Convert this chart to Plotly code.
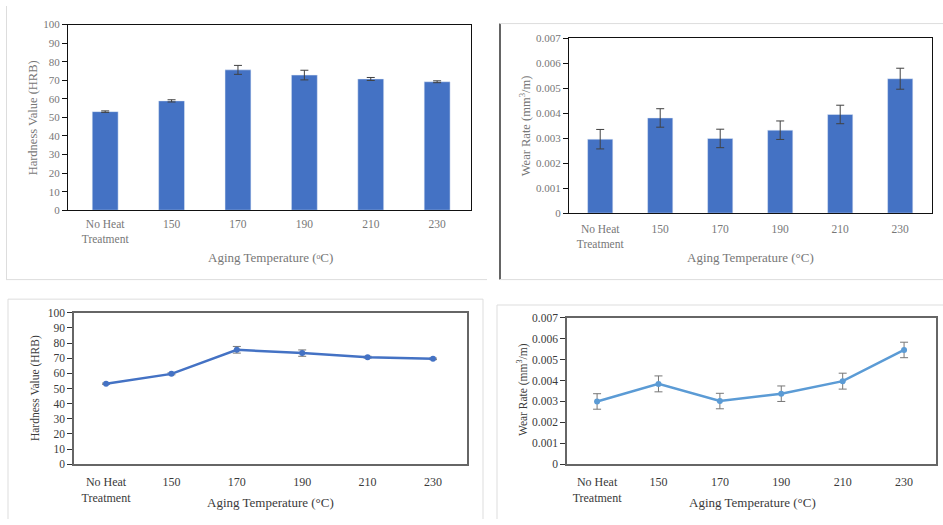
import plotly.graph_objects as go

W, H = 943, 525

categories = ["No Heat<br>Treatment", "150", "170", "190", "210", "230"]

# Top-left: hardness bar chart
hard_bar = [53.1, 58.9, 75.6, 72.8, 70.7, 69.2]
hard_bar_err = [0.4, 0.6, 2.4, 2.6, 0.8, 0.5]

# Top-right: wear rate bar chart
wear_bar = [0.00296, 0.00381, 0.00299, 0.00332, 0.00395, 0.00538]
wear_bar_err = [0.00039, 0.00037, 0.00037, 0.00037, 0.00037, 0.00042]

# Bottom-left: hardness line chart
hard_line = [53.2, 59.7, 75.6, 73.4, 70.7, 69.6]
hard_line_err = [0.4, 0.6, 2.2, 2.1, 0.6, 0.5]

# Bottom-right: wear rate line chart
wear_line = [0.00300, 0.00384, 0.00302, 0.00337, 0.00397, 0.00546]
wear_line_err = [0.00037, 0.00038, 0.00037, 0.00037, 0.00038, 0.00037]

hard_ticks = list(range(0, 101, 10))
wear_ticks = [0, 0.001, 0.002, 0.003, 0.004, 0.005, 0.006, 0.007]
wear_ticktext = ["0", "0.001", "0.002", "0.003", "0.004", "0.005", "0.006", "0.007"]

xidx = list(range(len(categories)))

def px(x):
    return x / W

def py(y):
    return 1 - y / H

SERIF = "Liberation Serif, Times New Roman, serif"
TOP_TXT = "#777777"
BOT_TXT = "#3a3a3a"
BAR_BLUE = "#4472C4"

fig = go.Figure()

fig.add_trace(go.Bar(
    x=xidx, y=hard_bar, width=0.39, marker_color=BAR_BLUE,
    error_y=dict(type="data", array=hard_bar_err, color="#404040", thickness=1, width=4),
    xaxis="x", yaxis="y", showlegend=False))

fig.add_trace(go.Bar(
    x=xidx, y=wear_bar, width=0.42, marker_color=BAR_BLUE,
    error_y=dict(type="data", array=wear_bar_err, color="#404040", thickness=1, width=4),
    xaxis="x2", yaxis="y2", showlegend=False))

fig.add_trace(go.Scatter(
    x=xidx, y=hard_line, mode="lines+markers",
    line=dict(color="#4472C4", width=2.5), marker=dict(color="#4472C4", size=6),
    error_y=dict(type="data", array=hard_line_err, color="#777777", thickness=1, width=4),
    xaxis="x3", yaxis="y3", showlegend=False))

fig.add_trace(go.Scatter(
    x=xidx, y=wear_line, mode="lines+markers",
    line=dict(color="#5B9BD5", width=2.5), marker=dict(color="#5B9BD5", size=6),
    error_y=dict(type="data", array=wear_line_err, color="#777777", thickness=1, width=4),
    xaxis="x4", yaxis="y4", showlegend=False))

def xax(domain, rng, anchor, color, size, lc, lw, standoff):
    return dict(domain=domain, range=rng, anchor=anchor, tickvals=xidx, ticktext=categories,
                showgrid=False, zeroline=False, ticks="", showline=True, linecolor=lc,
                linewidth=lw, mirror=True, ticklabelstandoff=standoff,
                tickfont=dict(family=SERIF, size=size, color=color), fixedrange=True)

def yax(domain, rng, anchor, tv, tt, color, size, lc, lw, tc):
    return dict(domain=domain, range=rng, anchor=anchor, tickvals=tv, ticktext=tt,
                showgrid=False, zeroline=False, ticks="outside", ticklen=5, tickcolor=tc,
                showline=True, linecolor=lc, linewidth=lw, mirror=True,
                tickfont=dict(family=SERIF, size=size, color=color), fixedrange=True)

fig.update_layout(
    width=W, height=H, margin=dict(l=0, r=0, t=0, b=0),
    paper_bgcolor="white", plot_bgcolor="white",
    bargap=0.6,
    xaxis=xax([px(68), px(471)], [-0.56, 5.51], "y", TOP_TXT, 11.5, "#111111", 1.3, 3),
    yaxis=yax([py(209), py(19)], [0, 100], "x", hard_ticks, [str(t) for t in hard_ticks],
              TOP_TXT, 11, "#111111", 1.3, "#111111"),
    xaxis2=xax([px(569), px(932)], [-0.52, 5.53], "y2", TOP_TXT, 11.5, "#111111", 1.3, 5),
    yaxis2=yax([py(212), py(33)], [0, 0.007], "x2", wear_ticks, wear_ticktext,
               TOP_TXT, 11, "#111111", 1.3, "#111111"),
    xaxis3=xax([px(74), px(467)], [-0.49, 5.52], "y3", BOT_TXT, 12, "#666666", 1.5, 6),
    yaxis3=yax([py(469), py(314)], [0, 100], "x3", hard_ticks, [str(t) for t in hard_ticks],
               BOT_TXT, 11.5, "#666666", 1.5, "#333333"),
    xaxis4=xax([px(567), px(936)], [-0.49, 5.52], "y4", BOT_TXT, 12, "#666666", 1.5, 6),
    yaxis4=yax([py(469), py(319)], [0, 0.007], "x4", wear_ticks, wear_ticktext,
               BOT_TXT, 11.5, "#666666", 1.5, "#333333"),
)

def ann(x, y, text, size, color, angle=0):
    fig.add_annotation(x=px(x), y=py(y), xref="paper", yref="paper", text=text,
                       showarrow=False, textangle=angle, xanchor="center", yanchor="middle",
                       font=dict(family=SERIF, size=size, color=color))

ann(270, 257, "Aging Temperature (ᵒC)", 13, TOP_TXT)
ann(33, 115, "Hardness Value (HRB)", 12.5, TOP_TXT, -90)
ann(750, 257, "Aging Temperature (°C)", 13, TOP_TXT)
ann(525, 123, "Wear Rate (mm<sup>3</sup>/m)", 12.5, TOP_TXT, -90)
ann(270, 508, "Aging Temperature (°C)", 13, BOT_TXT)
ann(35, 391, "Hardness Value (HRB)", 11.5, BOT_TXT, -90)
ann(752, 508, "Aging Temperature (°C)", 13, BOT_TXT)
ann(522, 393, "Wear Rate (mm<sup>3</sup>/m)", 11.5, BOT_TXT, -90)

def seg(x0, y0, x1, y1, color="#dddddd", w=1):
    fig.add_shape(type="line", xref="paper", yref="paper",
                  x0=px(x0), y0=py(y0), x1=px(x1), y1=py(y1),
                  line=dict(color=color, width=w))

# panel frames
seg(6.5, 0, 6.5, 280)
seg(6, 280, 487, 280)
seg(500, 18, 500, 280, "#111111", 1.3)
seg(500, 18, 943, 18)
seg(500, 280, 943, 280)
seg(8, 300, 483, 300)
seg(8, 300, 8, 525)
seg(483, 300, 483, 525)
seg(497, 306, 943, 306)
seg(497, 306, 497, 525)

fig.write_html("out.html")
